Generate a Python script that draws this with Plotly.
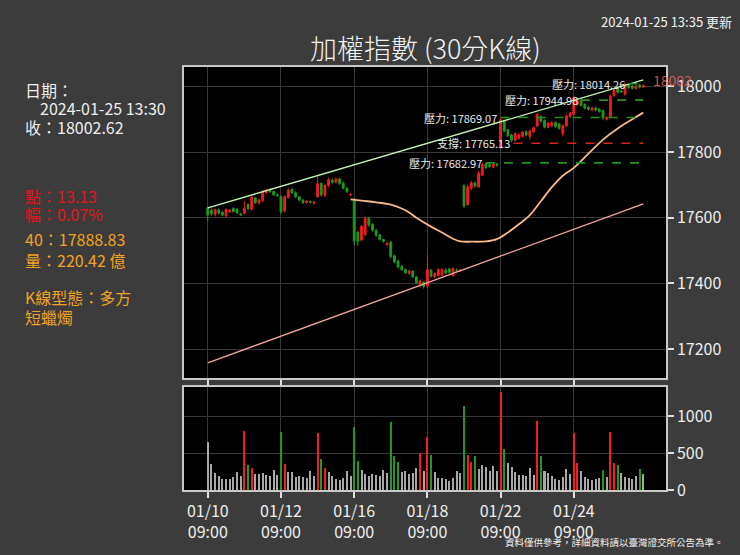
import plotly.graph_objects as go

# ---------------- data ----------------
tick_idx = [0, 20, 40, 60, 80, 100]
tick_text = ["01/10<br>09:00", "01/12<br>09:00", "01/16<br>09:00",
             "01/18<br>09:00", "01/22<br>09:00", "01/24<br>09:00"]

opens = [17630, 17622, 17610, 17624, 17617, 17606, 17618, 17628, 17626, 17612,
         17614, 17640, 17626, 17660, 17645, 17652, 17676, 17685, 17680, 17670,
         17664, 17620, 17662, 17686, 17676, 17664, 17654, 17646, 17650, 17644,
         17664, 17704, 17668, 17698, 17714, 17708, 17718, 17706, 17690, 17670,
         17656, 17556, 17532, 17548, 17598, 17580, 17562, 17548, 17534, 17518,
         17526, 17484, 17468, 17452, 17442, 17430, 17438, 17420, 17396, 17404,
         17392, 17440, 17420, 17424, 17426, 17440, 17444, 17424, 17440, 17438,
         17698, 17640, 17690, 17706, 17694, 17730, 17764, 17762, 17754, 17764,
         17815, 17895, 17868, 17852, 17836, 17842, 17848, 17862, 17848, 17862,
         17879, 17908, 17896, 17876, 17880, 17890, 17886, 17856, 17880, 17908,
         17915, 17945, 17958, 17945, 17936, 17928, 17934, 17930, 17926, 17900,
         17906, 17972, 17992, 17986, 17976, 18004, 18000, 17994, 18004, 17998]
highs = [17634, 17628, 17628, 17628, 17620, 17628, 17627, 17632, 17630, 17615,
         17650, 17644, 17666, 17664, 17658, 17684, 17688, 17690, 17683, 17674,
         17668, 17668, 17690, 17692, 17680, 17666, 17656, 17654, 17652, 17650,
         17730, 17708, 17702, 17722, 17720, 17722, 17722, 17710, 17694, 17674,
         17660, 17560, 17578, 17604, 17602, 17584, 17566, 17550, 17536, 17526,
         17530, 17488, 17472, 17456, 17446, 17442, 17440, 17422, 17412, 17406,
         17488, 17444, 17434, 17446, 17446, 17446, 17448, 17448, 17446, 17444,
         17702, 17700, 17712, 17710, 17742, 17768, 17768, 17766, 17766, 17767,
         17905, 17898, 17870, 17856, 17860, 17858, 17864, 17866, 17868, 17878,
         17918, 17912, 17900, 17892, 17894, 17894, 17888, 17884, 17914, 17922,
         17972, 17962, 17962, 17948, 17940, 17938, 17938, 17934, 17930, 17908,
         17976, 17992, 17996, 17990, 18012, 18008, 18004, 18004, 18008, 18006]
lows = [17590, 17606, 17604, 17610, 17604, 17602, 17614, 17616, 17612, 17605,
        17610, 17624, 17622, 17642, 17641, 17648, 17672, 17676, 17666, 17664,
        17612, 17616, 17658, 17672, 17660, 17650, 17642, 17643, 17644, 17641,
        17660, 17664, 17664, 17694, 17704, 17704, 17700, 17686, 17676, 17665,
        17515, 17514, 17528, 17544, 17572, 17558, 17542, 17530, 17524, 17514,
        17476, 17462, 17446, 17438, 17428, 17426, 17416, 17398, 17388, 17384,
        17386, 17418, 17416, 17420, 17422, 17428, 17430, 17420, 17434, 17434,
        17630, 17636, 17684, 17692, 17690, 17726, 17748, 17752, 17750, 17756,
        17810, 17860, 17846, 17830, 17832, 17838, 17844, 17848, 17836, 17858,
        17876, 17890, 17872, 17872, 17876, 17874, 17868, 17848, 17876, 17904,
        17910, 17940, 17938, 17930, 17926, 17924, 17924, 17920, 17898, 17896,
        17902, 17968, 17978, 17980, 17972, 17992, 17990, 17990, 17994, 17996]
closes = [17608, 17612, 17625, 17614, 17608, 17625, 17623, 17619, 17615, 17609,
          17628, 17628, 17662, 17646, 17654, 17680, 17684, 17679, 17670, 17667,
          17618, 17664, 17684, 17676, 17664, 17654, 17646, 17650, 17647, 17648,
          17704, 17670, 17698, 17716, 17708, 17718, 17704, 17690, 17680, 17671,
          17530, 17528, 17574, 17598, 17578, 17562, 17546, 17534, 17528, 17523,
          17482, 17466, 17450, 17442, 17432, 17438, 17420, 17402, 17408, 17390,
          17442, 17422, 17430, 17442, 17442, 17432, 17434, 17446, 17438, 17441,
          17636, 17694, 17706, 17696, 17736, 17762, 17752, 17756, 17762, 17760,
          17898, 17864, 17850, 17836, 17856, 17852, 17860, 17852, 17864, 17874,
          17915, 17894, 17876, 17888, 17890, 17878, 17872, 17880, 17910, 17918,
          17966, 17958, 17942, 17934, 17930, 17934, 17928, 17924, 17904, 17906,
          17970, 17988, 17982, 17984, 18006, 17996, 17994, 18000, 17998, 18002.62]

volumes = [652, 353, 237, 196, 147, 156, 156, 174, 250, 192,
           795, 339, 304, 223, 219, 232, 201, 187, 272, 205,
           781, 357, 241, 241, 179, 196, 174, 165, 259, 192,
           777, 424, 304, 241, 192, 147, 143, 170, 259, 196,
           857, 393, 272, 223, 196, 214, 210, 187, 277, 237,
           924, 460, 384, 241, 259, 219, 237, 304, 509, 263,
           719, 478, 246, 165, 161, 156, 125, 161, 263, 232,
           1134, 478, 375, 460, 290, 344, 312, 254, 330, 263,
           1335, 558, 370, 317, 246, 210, 210, 192, 304, 210,
           933, 460, 263, 237, 192, 156, 138, 183, 286, 219,
           772, 362, 263, 183, 152, 134, 152, 170, 268, 183,
           786, 362, 335, 237, 179, 161, 156, 187, 290, 219]
# bars whose volume is highlighted in the candle colour
vol_highlight = [10, 11, 12, 20, 21, 30, 31, 32, 40, 41, 50, 51, 52, 58, 60, 61,
                 70, 71, 72, 73, 80, 81, 90, 91, 100, 101, 108, 110, 111, 112, 118]

# 40-bar moving average
ma_idx = [39, 42, 46, 50, 54, 57, 61, 64, 67, 69, 72, 76, 79, 82, 85, 88, 91, 94,
          97, 100, 104, 108, 112, 116, 119]
ma_val = [17656, 17652, 17647, 17640, 17623, 17600, 17573, 17555, 17536, 17528,
          17527, 17528, 17535, 17555, 17580, 17608, 17650, 17693, 17728, 17752,
          17795, 17838, 17872, 17900, 17920]

# trend lines
upper_idx = [0, 119]
upper_val = [17630, 18020]
lower_idx = [0, 119]
lower_val = [17158, 17642]

# support / resistance levels (visual level, start bar, label, kind)
lvl_value = [18008, 17958, 17905, 17827, 17767]
lvl_start = [115, 102, 80, 83.5, 76]
lvl_label = ["壓力: 18014.26", "壓力: 17944.98", "壓力: 17869.07", "支撐: 17765.13", "壓力: 17682.97"]
lvl_kind = ["r", "r", "r", "s", "r"]
lvl_end = 119

x = list(range(len(closes)))

# ---------------- style ----------------
BG = "#3c3c3c"
UP = "#f41c1c"
DN = "#1f9a1f"
GRAY = "#a8a8a8"
GRID = "#383838"
BORDER = "#c8c8c8"
TXT = "#eeeeee"
FONT = "Noto Sans CJK TC, Noto Sans, sans-serif"

L, R, T, B = 184, 666, 67, 497.5
W = R - L
H = B - T


def px(xp):
    return (xp - L) / W


def py(yp):
    return (B - yp) / H


fig = go.Figure()

fig.add_trace(go.Candlestick(
    x=x, open=opens, high=highs, low=lows, close=closes,
    increasing=dict(line=dict(color=UP, width=1), fillcolor=UP),
    decreasing=dict(line=dict(color=DN, width=1), fillcolor=DN),
    whiskerwidth=0, showlegend=False, xaxis="x", yaxis="y", hoverinfo="skip"))

fig.add_trace(go.Scatter(x=ma_idx, y=ma_val, mode="lines", line=dict(color="#f6b98c", width=1.8),
                         line_shape="spline", showlegend=False, hoverinfo="skip"))
fig.add_trace(go.Scatter(x=upper_idx, y=upper_val, mode="lines", line=dict(color="#c4f2b0", width=1.3),
                         showlegend=False, hoverinfo="skip"))
fig.add_trace(go.Scatter(x=lower_idx, y=lower_val, mode="lines", line=dict(color="#f2a8a0", width=1.3),
                         showlegend=False, hoverinfo="skip"))

annotations = []
for v, s, lab, k in zip(lvl_value, lvl_start, lvl_label, lvl_kind):
    col = "#d82222" if k == "s" else "#1f951f"
    fig.add_trace(go.Scatter(x=[s, lvl_end], y=[v, v], mode="lines",
                             line=dict(color=col, width=1.6, dash="dash"),
                             showlegend=False, hoverinfo="skip"))
    annotations.append(dict(x=s - 0.4, y=v, xref="x", yref="y", text=lab, showarrow=False,
                            xanchor="right", yanchor="middle",
                            font=dict(size=11, color="#eaeaea", family=FONT)))

vol_colors = []
for i in x:
    if i in vol_highlight:
        vol_colors.append(UP if closes[i] >= opens[i] else DN)
    else:
        vol_colors.append(GRAY)

fig.add_trace(go.Bar(x=x, y=volumes, marker=dict(color=vol_colors, line=dict(width=0)),
                     width=0.55, xaxis="x2", yaxis="y2", showlegend=False, hoverinfo="skip"))

# last price tag
annotations.append(dict(x=px(651), y=closes[-1] + 16, xref="paper", yref="y", text="18002",
                        showarrow=False, xanchor="left", yanchor="middle",
                        font=dict(size=14, color="rgba(232,96,96,0.85)", family=FONT)))

# title and header
annotations.append(dict(x=px(425), y=py(47), xref="paper", yref="paper", text="加權指數 (30分K線)",
                        showarrow=False, xanchor="center", yanchor="middle",
                        font=dict(size=27, color="#f2f2f2", family=FONT, weight=300)))
annotations.append(dict(x=px(734), y=py(21), xref="paper", yref="paper", text="2024-01-25 13:35 更新",
                        showarrow=False, xanchor="right", yanchor="middle",
                        font=dict(size=13, color="#f2f2f2", family=FONT)))
annotations.append(dict(x=px(726), y=py(550), xref="paper", yref="paper",
                        text="資料僅供參考，詳細資料請以臺灣證交所公告為準。",
                        showarrow=False, xanchor="right", yanchor="middle",
                        font=dict(size=9.5, color="#f2f2f2", family=FONT)))

# left info panel
RED = "#e8141c"
ORG = "#f2a224"
panel = [
    ("日期：", 23, 90, TXT),
    ("2024-01-25 13:30", 38, 109, TXT),
    ("收：18002.62", 23, 128, TXT),
    ("點：13.13", 23, 198, RED),
    ("幅：0.07%", 23, 217, RED),
    ("40：17888.83", 23, 242, ORG),
    ("量：220.42 億", 23, 263, ORG),
    ("K線型態：多方", 23, 301, ORG),
    ("短蠟燭", 23, 321, ORG),
]
for t, xx, yy, c in panel:
    annotations.append(dict(x=px(xx), y=py(yy), xref="paper", yref="paper", text=t,
                            showarrow=False, xanchor="left", yanchor="middle",
                            font=dict(size=16, color=c, family=FONT)))

axis_common = dict(showline=True, mirror=True, linecolor=BORDER, linewidth=1.5,
                   showgrid=True, gridcolor=GRID, gridwidth=1, zeroline=False,
                   ticks="outside", tickcolor="#e0e0e0", ticklen=6, tickwidth=1.5,
                   tickfont=dict(size=16, color=TXT, family=FONT))

main_bottom = py(383.5)
vol_top = py(392.6)

fig.update_layout(
    width=740, height=555,
    paper_bgcolor=BG, plot_bgcolor="#000000",
    margin=dict(l=L, r=740 - R, t=T, b=555 - B),
    showlegend=False,
    annotations=annotations,
    bargap=0,
    xaxis=dict(domain=[0, 1], anchor="y", range=[-6.5, 125.2], tickvals=tick_idx,
               ticktext=tick_text, showticklabels=False,
               rangeslider=dict(visible=False), **axis_common),
    yaxis=dict(domain=[main_bottom, 1], anchor="x", side="right", range=[17112, 18059],
               tickvals=[17200, 17400, 17600, 17800, 18000], tickformat="d", **axis_common),
    xaxis2=dict(domain=[0, 1], anchor="y2", matches="x", range=[-6.5, 125.2],
                tickvals=tick_idx, ticktext=tick_text, **axis_common),
    yaxis2=dict(domain=[0, vol_top], anchor="x2", side="right", range=[0, 1397],
                tickvals=[0, 500, 1000], tickformat="d", **axis_common),
)

fig.write_html("out.html", config={"displayModeBar": False},
               post_script="document.body.style.margin='0';document.body.style.overflow='hidden';"
                           "document.documentElement.style.overflow='hidden';")
